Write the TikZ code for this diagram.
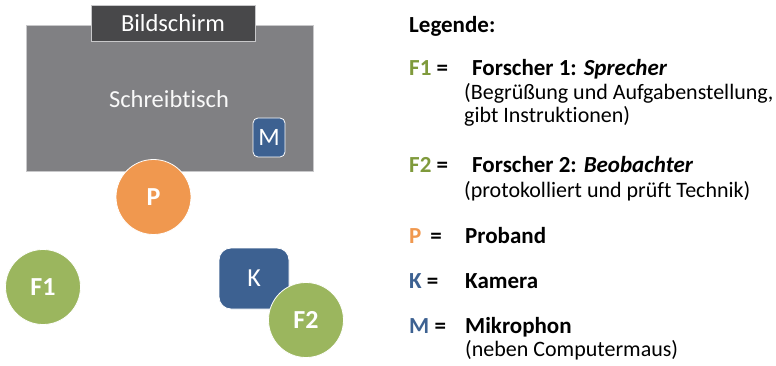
\documentclass[tikz,border=0pt]{standalone}
\usepackage{fontspec}
\setmainfont{Carlito}[Ligatures={NoCommon}]
\definecolor{deskgray}{HTML}{808083}
\definecolor{screengray}{HTML}{48484A}
\definecolor{pblue}{HTML}{3D6191}
\definecolor{porange}{HTML}{F0984F}
\definecolor{pgreen}{HTML}{9BB65E}
\definecolor{lgreen}{HTML}{7F9A3C}
\definecolor{deskline}{HTML}{C8C8CA}
\begin{document}
\begin{tikzpicture}[x=1pt,y=-1pt,
  person/.style={circle,draw=white,line width=0.8pt,minimum size=75pt,inner sep=0pt,text=white,font=\fontsize{26}{30}\selectfont\bfseries},
  devbox/.style={rounded corners=#1,draw=white,line width=0.8pt,fill=pblue,inner sep=0pt,text=white,font=\fontsize{26}{30}\selectfont},
  leglab/.style={anchor=base west,inner sep=0pt,font=\fontsize{23}{27}\selectfont\bfseries},
  legsub/.style={anchor=base west,inner sep=0pt,font=\fontsize{22}{26}\selectfont}]
\useasboundingbox (0,0) rectangle (776,366);
% desk
\node[draw=deskline,line width=0.6pt,fill=deskgray,minimum width=287pt,minimum height=146pt,inner sep=0pt] (desk) at (169.5,98) {};
\node[text=white!95!gray,font=\fontsize{24.5}{28}\selectfont] (desklabel) at (169,99) {Schreibtisch};
% screen
\node[draw=deskline,line width=0.6pt,fill=screengray,minimum width=164pt,minimum height=36pt,inner sep=0pt,text=white,font=\fontsize{24.5}{28}\selectfont] (screen) at (173,23) {Bildschirm};
% microphone
\node[devbox=5pt,minimum width=32pt,minimum height=39pt,font=\fontsize{25}{28}\selectfont] (mic) at (269,137.5) {M};
% persons and camera
\node[person,fill=porange] (p) at (153.5,197) {P};
\node[person,fill=pgreen] (f1) at (43,287) {F1};
\node[devbox=12pt,minimum width=70pt,minimum height=61pt] (cam) at (254,278.5) {K};
\node[person,fill=pgreen] (f2) at (306,320) {F2};
% legend
\node[leglab] (leg) at (409,33) {Legende:};
\node[leglab] (lf1) at (409,76) {\textcolor{lgreen}{F1} =};
\node[leglab] (tf1) at (472,76) {Forscher 1: \textit{Sprecher}};
\node[legsub] (sf1a) at (464,100) {(Begrüßung und Aufgabenstellung,};
\node[legsub] (sf1b) at (464,123) {gibt Instruktionen)};
\node[leglab] (lf2) at (409,173) {\textcolor{lgreen}{F2} =};
\node[leglab] (tf2) at (472,173) {Forscher 2: \textit{Beobachter}};
\node[legsub] (sf2) at (464,197) {(protokolliert und prüft Technik)};
\node[leglab] (lp) at (409,243) {\textcolor{porange}{P} \,=};
\node[leglab] (tp) at (465,243) {Proband};
\node[leglab] (lk) at (409,288) {\textcolor{pblue}{K} =};
\node[leglab] (tk) at (465,288) {Kamera};
\node[leglab] (lm) at (409,333) {\textcolor{pblue}{M} =};
\node[leglab] (tm) at (465,333) {Mikrophon};
\node[legsub] (sm) at (465,356) {(neben Computermaus)};
\end{tikzpicture}
\end{document}
